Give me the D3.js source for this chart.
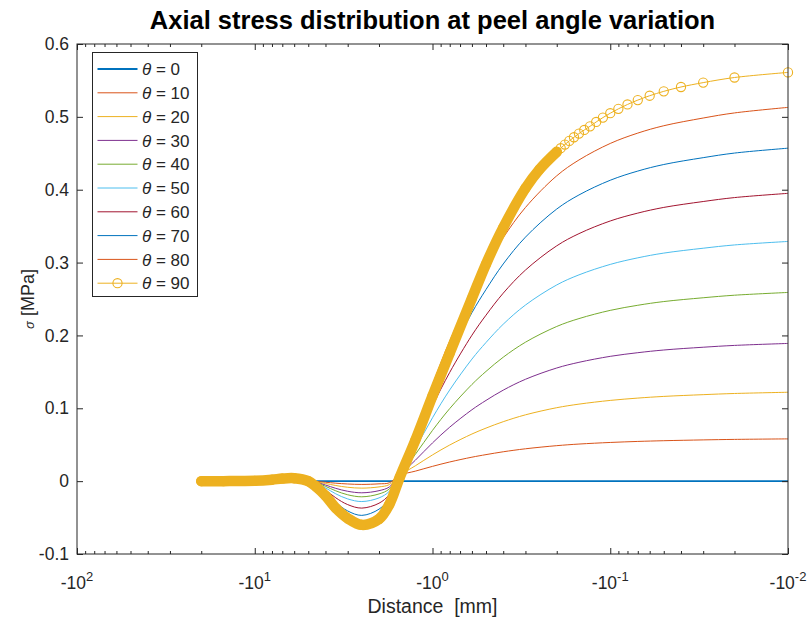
<!DOCTYPE html>
<html>
<head>
<meta charset="utf-8">
<script src="https://cdn.jsdelivr.net/npm/d3@7"></script>
<style>
  body { margin: 0; background: #fff; }
  text { font-family: "Liberation Sans", Arial, sans-serif; fill: #262626; }
</style>
</head>
<body>
<svg id="chart" width="810" height="621"></svg>
<script>
// distance grid [mm] shared by the thin curves
const distance = [-20, -15, -10, -8, -7, -6, -5, -4.5, -4, -3.5, -3, -2.5, -2, -1.75, -1.53,
  -1.25, -1, -0.8, -0.6, -0.5, -0.4, -0.3, -0.2, -0.15, -0.1, -0.07, -0.05, -0.03, -0.02, -0.01];

const sigma0  = distance.map(() => 0);
const sigma10 = [0, 0, 0, 0, 0, 0, 0, -0.0005, -0.0015, -0.0028, -0.0039, -0.0045, -0.0037, -0.0023, 0.008,
  0.0137, 0.0203, 0.0263, 0.0329, 0.0364, 0.0403, 0.0444, 0.0487, 0.0509, 0.0531, 0.0545, 0.0555, 0.0566, 0.0573, 0.058];
const sigma20 = [0, 0, 0, 0, 0, 0, 0, -0.001, -0.0032, -0.006, -0.0084, -0.0096, -0.0079, -0.0048, 0.008,
  0.021, 0.036, 0.0496, 0.0647, 0.0728, 0.0816, 0.091, 0.1008, 0.1057, 0.1108, 0.114, 0.1163, 0.1187, 0.1203, 0.122];
const sigma30 = [0, 0, 0, 0, 0, 0, 0, -0.0016, -0.0053, -0.0099, -0.0139, -0.016, -0.0131, -0.008, 0.008,
  0.0286, 0.0525, 0.0741, 0.098, 0.1108, 0.1249, 0.1398, 0.1553, 0.1631, 0.1713, 0.1763, 0.18, 0.1838, 0.1863, 0.189];
const sigma40 = [0, 0, 0, 0, 0, 0, 0, -0.0022, -0.0071, -0.0133, -0.0187, -0.0215, -0.0176, -0.0108, 0.008,
  0.0366, 0.0697, 0.0996, 0.1327, 0.1506, 0.1701, 0.1907, 0.2123, 0.2231, 0.2344, 0.2414, 0.2465, 0.2517, 0.2552, 0.259];
const sigma50 = [0, 0, 0, 0, 0, 0, 0, -0.0028, -0.0092, -0.0174, -0.0244, -0.028, -0.023, -0.014, 0.008,
  0.0446, 0.087, 0.1252, 0.1675, 0.1903, 0.2154, 0.2417, 0.2693, 0.2831, 0.2975, 0.3065, 0.313, 0.3197, 0.3242, 0.329];
const sigma60 = [0, 0, 0, 0, 0, 0, 0, -0.0037, -0.0122, -0.0229, -0.0322, -0.037, -0.0303, -0.0185, 0.008,
  0.0521, 0.1032, 0.1493, 0.2003, 0.2278, 0.258, 0.2897, 0.323, 0.3397, 0.3571, 0.3679, 0.3757, 0.3838, 0.3892, 0.395];
const sigma70 = [0, 0, 0, 0, 0, 0, 0, -0.0047, -0.0155, -0.0291, -0.0409, -0.047, -0.0385, -0.0235, 0.008,
  0.0592, 0.1185, 0.1719, 0.2312, 0.263, 0.2981, 0.3349, 0.3735, 0.3928, 0.413, 0.4256, 0.4346, 0.444, 0.4503, 0.457];
const sigma80 = [0, 0, 0, 0, 0, 0, 0, -0.0055, -0.0182, -0.0341, -0.0479, -0.055, -0.0451, -0.0275, 0.008,
  0.0656, 0.1322, 0.1923, 0.259, 0.2948, 0.3342, 0.3756, 0.4191, 0.4408, 0.4635, 0.4777, 0.4878, 0.4984, 0.5054, 0.513];

// theta = 90 has its own (denser) samples, drawn with markers
const distance90 = [-20, -15, -10, -8, -7, -6, -5, -4.5, -4, -3.5, -3, -2.5, -2, -1.75, -1.53,
  -1.25, -1, -0.8, -0.6, -0.5, -0.4, -0.3, -0.25, -0.2, -0.19, -0.18, -0.17, -0.16, -0.15, -0.14,
  -0.13, -0.12, -0.11, -0.1, -0.09, -0.08, -0.07, -0.06, -0.05, -0.04, -0.03, -0.02, -0.01];
const sigma90 = [0, 0, 0.0005, 0.002, 0.0035, 0.004, 0, -0.008, -0.02, -0.037, -0.051, -0.06, -0.052, -0.032, 0.005,
  0.056, 0.117, 0.176, 0.251, 0.298, 0.348, 0.402, 0.428, 0.452, 0.457, 0.462, 0.467, 0.472, 0.477, 0.482,
  0.487, 0.493, 0.499, 0.505, 0.511, 0.517, 0.523, 0.529, 0.535, 0.541, 0.547, 0.554, 0.561];

const thetaLabels = ["0", "10", "20", "30", "40", "50", "60", "70", "80", "90"];
const colors = ["#0072BD", "#D95319", "#EDB120", "#7E2F8E", "#77AC30", "#4DBEEE", "#A2142F", "#0072BD", "#D95319", "#EDB120"];
const thinSeries = [sigma0, sigma10, sigma20, sigma30, sigma40, sigma50, sigma60, sigma70, sigma80];

const xTickExp = [2, 1, 0, -1, -2];
const yTicks = [-0.1, 0, 0.1, 0.2, 0.3, 0.4, 0.5, 0.6];

const svg = d3.select("#chart");
const L = 77, R = 788, T = 44, B = 554;
const axisColor = "#262626";

// log scale on |distance|, axis runs from -100 to -0.01
const x = d3.scaleLog().domain([100, 0.01]).range([L, R]);
const y = d3.scaleLinear().domain([-0.1, 0.6]).range([B, T]);

const major = xTickExp.map(e => Math.pow(10, e));
const minor = [];
for (let e = -2; e < 2; e++) for (let k = 2; k <= 9; k++) minor.push(k * Math.pow(10, e));

const g = svg.append("g");

// line series
const line = (xs, ys) => d3.line()
  .x((d, i) => x(-xs[i]))
  .y(d => y(d))
  .curve(d3.curveCatmullRom.alpha(0.5))(ys);

thinSeries.forEach((s, i) => {
  g.append("path")
    .attr("d", line(distance, s))
    .attr("fill", "none")
    .attr("stroke", colors[i])
    .attr("stroke-width", i === 0 ? 1.8 : 1);
});

// theta = 90: dense markers merge into a thick band on the left
const denseIdx = distance90.map((d, i) => i).filter(i => distance90[i] <= -0.2);
g.append("path")
  .attr("d", line(denseIdx.map(i => distance90[i]), denseIdx.map(i => sigma90[i])))
  .attr("fill", "none")
  .attr("stroke", colors[9])
  .attr("stroke-width", 10.5)
  .attr("stroke-linecap", "round")
  .attr("stroke-linejoin", "round");
g.append("path")
  .attr("d", line(distance90, sigma90))
  .attr("fill", "none")
  .attr("stroke", colors[9])
  .attr("stroke-width", 1);
g.selectAll("circle.m90")
  .data(sigma90)
  .enter().append("circle")
  .attr("class", "m90")
  .attr("cx", (d, i) => x(-distance90[i]))
  .attr("cy", d => y(d))
  .attr("r", 4.6)
  .attr("fill", "none")
  .attr("stroke", colors[9])
  .attr("stroke-width", 1.1);

// axes box
svg.append("rect")
  .attr("x", L).attr("y", T).attr("width", R - L).attr("height", B - T)
  .attr("fill", "none").attr("stroke", axisColor).attr("stroke-width", 1);

const tickAxis = (axis, tx, ty) => {
  const a = svg.append("g").attr("transform", `translate(${tx},${ty})`).call(axis);
  a.select(".domain").remove();
  a.selectAll("line").attr("stroke", axisColor);
  return a;
};

tickAxis(d3.axisBottom(x).tickValues(major).tickSize(-6).tickFormat(""), 0, B);
tickAxis(d3.axisBottom(x).tickValues(minor).tickSize(-3).tickFormat(""), 0, B);
tickAxis(d3.axisTop(x).tickValues(major).tickSize(-6).tickFormat(""), 0, T);
tickAxis(d3.axisTop(x).tickValues(minor).tickSize(-3).tickFormat(""), 0, T);
tickAxis(d3.axisRight(y).tickValues(yTicks).tickSize(-6).tickFormat(""), R, 0);

// plain hyphen for negatives, as in the original figure
const yAxis = tickAxis(d3.axisLeft(y).tickValues(yTicks).tickSize(-6).tickPadding(8)
  .tickFormat(d => d === 0 ? "0" : d3.format(".1f")(d).replace("\u2212", "-")), L, 0);
yAxis.selectAll("text")
  .style("font-size", "17.5px")
  .style("font-family", "'Liberation Sans', Arial, sans-serif")
  .attr("fill", axisColor);

// x tick labels  -10^k
xTickExp.forEach(e => {
  const t = svg.append("text")
    .attr("x", x(Math.pow(10, e)))
    .attr("y", 589)
    .attr("text-anchor", "middle")
    .style("font-size", "17.5px");
  t.append("tspan").text("-10");
  t.append("tspan").attr("dy", -8).style("font-size", "13px").text(e);
});

// axis labels
svg.append("text")
  .attr("x", (L + R) / 2).attr("y", 613)
  .attr("text-anchor", "middle")
  .style("font-size", "19.5px")
  .style("white-space", "pre")
  .text("Distance  [mm]");

const yl = svg.append("text")
  .attr("transform", `translate(34,${(T + B) / 2}) rotate(-90)`)
  .attr("text-anchor", "middle")
  .style("font-size", "18px");
yl.append("tspan").style("font-style", "italic").style("font-size", "13px").text("σ");
yl.append("tspan").text(" [MPa]");

// title
svg.append("text")
  .attr("x", (L + R) / 2).attr("y", 29)
  .attr("text-anchor", "middle")
  .style("font-size", "25.5px")
  .style("font-weight", "bold")
  .style("fill", "#000")
  .text("Axial stress distribution at peel angle variation");

// legend
const lg = svg.append("g");
lg.append("rect")
  .attr("x", 92.5).attr("y", 52.5).attr("width", 105).attr("height", 244)
  .attr("fill", "#fff").attr("stroke", axisColor).attr("stroke-width", 1);
thetaLabels.forEach((lab, i) => {
  const ly = 69 + i * 23.8;
  lg.append("line")
    .attr("x1", 97.5).attr("x2", 137.5).attr("y1", ly).attr("y2", ly)
    .attr("stroke", colors[i]).attr("stroke-width", i === 0 ? 1.8 : 1);
  if (i === 9) {
    lg.append("circle").attr("cx", 117.5).attr("cy", ly).attr("r", 4.6)
      .attr("fill", "none").attr("stroke", colors[i]).attr("stroke-width", 1.1);
  }
  const t = lg.append("text")
    .attr("x", 142).attr("y", ly).attr("dy", "0.36em")
    .style("font-size", "17px");
  t.append("tspan").style("font-style", "italic").text("θ");
  t.append("tspan").text(" = " + lab);
});
</script>
</body>
</html>
